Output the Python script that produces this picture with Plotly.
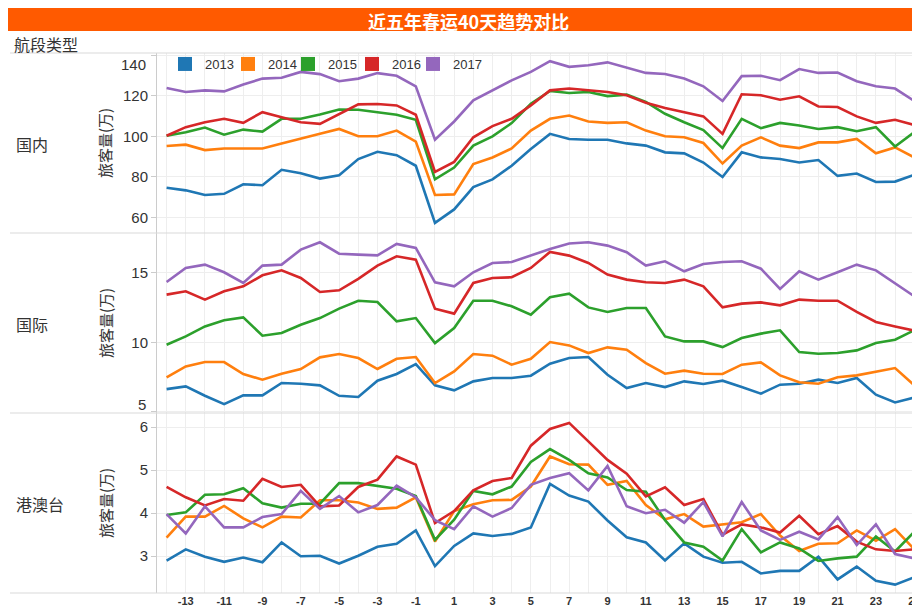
import plotly.graph_objects as go

days = list(range(-14, 26))
years = ['2013', '2014', '2015', '2016', '2017']
colors = ['#1f77b4', '#ff7f0e', '#2ca02c', '#d62728', '#9467bd']
row_labels = ['国内', '国际', '港澳台']
title_text = '近五年春运40天趋势对比'
header_text = '航段类型'
y_title = '旅客量(万)'

# 国内
dom_2013 = [74.7, 73.4, 71.1, 71.7, 76.4, 75.9, 83.5, 81.8, 79.2, 80.8, 88.8, 92.4, 90.7, 85.5, 57.4, 64.0, 75.0, 78.8, 85.5,
            93.7, 101.2, 98.7, 98.3, 98.3, 96.5, 95.4, 92.1, 91.6, 87.1, 80.0, 92.1, 89.6, 88.8, 87.1, 88.3, 80.5, 81.7, 77.5, 77.7, 81.0]
dom_2014 = [95.2, 95.9, 93.2, 94.0, 94.0, 94.0, 96.5, 98.7, 101.2, 103.6, 100.0, 100.0, 102.8, 97.4, 71.1, 71.4, 86.3, 89.6, 94.0,
            102.8, 108.6, 110.2, 107.3, 106.6, 106.9, 102.8, 100.0, 99.5, 96.7, 86.6, 95.4, 99.5, 95.4, 94.2, 97.0, 97.0, 98.7, 91.6, 94.5, 89.6]
dom_2015 = [100.3, 102.0, 104.3, 100.8, 103.3, 102.3, 108.6, 108.6, 110.7, 113.2, 113.1, 111.9, 110.6, 108.1, 78.8, 84.6, 95.4, 100.0, 106.5,
            116.0, 122.3, 121.3, 121.8, 119.8, 120.5, 116.9, 111.1, 106.9, 103.1, 94.2, 108.6, 104.0, 106.6, 105.3, 103.6, 104.5, 102.5, 104.5, 95.0, 102.0]
dom_2016 = [100.3, 104.5, 106.9, 108.6, 106.6, 111.9, 109.4, 106.9, 106.1, 111.1, 115.7, 115.9, 115.2, 110.6, 82.5, 87.4, 99.5, 105.0, 108.6,
            115.2, 122.6, 123.5, 122.6, 121.8, 120.2, 116.5, 113.9, 111.9, 109.8, 101.2, 120.7, 120.2, 118.0, 119.7, 114.7, 114.4, 109.8, 106.6, 108.1, 105.6]
dom_2017 = [123.8, 121.8, 122.6, 122.1, 125.5, 128.4, 128.8, 131.7, 130.6, 127.1, 128.4, 131.1, 129.8, 124.6, 98.3, 107.3, 117.7, 122.6, 127.5,
            131.7, 137.0, 134.2, 135.0, 136.4, 133.7, 131.2, 130.7, 128.4, 124.6, 117.4, 129.6, 129.8, 127.6, 133.1, 131.2, 131.4, 127.1, 124.6, 123.5, 117.4]

# 国际
intl_2013 = [6.63, 6.83, 6.15, 5.55, 6.18, 6.18, 7.07, 7.02, 6.90, 6.15, 6.06, 7.24, 7.72, 8.44, 6.90, 6.54, 7.19, 7.43, 7.43,
             7.60, 8.46, 8.87, 8.94, 7.67, 6.71, 7.07, 6.78, 7.19, 7.00, 7.24, 6.78, 6.30, 6.95, 7.02, 7.31, 7.07, 7.43, 6.23, 5.67, 6.03]
intl_2014 = [7.48, 8.27, 8.58, 8.58, 7.72, 7.31, 7.74, 8.08, 8.92, 9.16, 8.87, 8.08, 8.82, 8.94, 7.07, 7.91, 9.16, 9.04, 8.39,
             8.82, 10.02, 9.78, 9.23, 9.64, 9.47, 8.51, 7.74, 7.96, 7.74, 7.72, 8.39, 8.56, 7.62, 7.12, 7.02, 7.48, 7.62, 7.86, 8.15, 6.90]
intl_2015 = [9.83, 10.43, 11.15, 11.59, 11.80, 10.48, 10.67, 11.27, 11.75, 12.43, 13.00, 12.91, 11.51, 11.75, 9.95, 11.03, 13.00, 13.00, 12.60,
             12.00, 13.25, 13.51, 12.52, 12.19, 12.48, 12.48, 10.43, 10.07, 10.07, 9.66, 10.31, 10.63, 10.87, 9.30, 9.18, 9.23, 9.42, 9.95, 10.19, 10.87]
intl_2016 = [13.44, 13.68, 13.08, 13.68, 14.04, 14.83, 15.19, 14.64, 13.63, 13.75, 14.57, 15.53, 16.20, 15.96, 12.43, 12.07, 14.28, 14.64, 14.69,
             15.36, 16.51, 16.25, 15.72, 14.88, 14.52, 14.33, 14.28, 14.52, 14.04, 12.52, 12.79, 12.88, 12.67, 13.08, 13.00, 13.00, 12.19, 11.47, 11.15, 10.84]
intl_2017 = [14.35, 15.36, 15.60, 15.05, 14.28, 15.53, 15.60, 16.68, 17.21, 16.39, 16.32, 16.27, 17.09, 16.80, 14.33, 14.04, 15.05, 15.72, 15.79,
             16.25, 16.73, 17.12, 17.21, 16.97, 16.49, 15.53, 15.84, 15.12, 15.65, 15.79, 15.84, 15.31, 13.85, 15.12, 14.52, 15.05, 15.60, 15.19, 14.28, 13.32]

# 港澳台
hmt_2013 = [2.90, 3.16, 2.99, 2.87, 2.97, 2.86, 3.32, 3.00, 3.01, 2.83, 3.01, 3.22, 3.29, 3.60, 2.77, 3.24, 3.53, 3.47, 3.52,
            3.67, 4.68, 4.41, 4.27, 3.83, 3.44, 3.32, 2.90, 3.30, 2.99, 2.85, 2.87, 2.60, 2.66, 2.66, 2.99, 2.46, 2.76, 2.43, 2.34, 2.51]
hmt_2014 = [3.43, 3.92, 3.92, 4.17, 3.88, 3.67, 3.92, 3.90, 4.30, 4.30, 4.25, 4.10, 4.13, 4.37, 3.34, 4.05, 4.21, 4.30, 4.31,
            4.62, 5.32, 5.14, 5.13, 4.66, 4.75, 4.19, 3.86, 3.98, 3.69, 3.74, 3.79, 3.98, 3.48, 3.12, 3.29, 3.30, 3.60, 3.36, 3.63, 3.16]
hmt_2015 = [3.96, 4.02, 4.43, 4.44, 4.58, 4.23, 4.13, 4.22, 4.22, 4.70, 4.70, 4.64, 4.57, 4.40, 3.38, 3.85, 4.52, 4.44, 4.62,
            5.19, 5.49, 5.24, 4.93, 4.83, 4.54, 4.50, 3.84, 3.32, 3.22, 2.90, 3.63, 3.09, 3.32, 3.18, 2.89, 2.95, 2.99, 3.46, 3.11, 3.57]
hmt_2016 = [4.61, 4.37, 4.18, 4.33, 4.29, 4.80, 4.61, 4.66, 4.16, 4.18, 4.61, 4.78, 5.32, 5.13, 3.77, 4.05, 4.53, 4.75, 4.82,
            5.57, 5.96, 6.10, 5.67, 5.24, 4.92, 4.39, 4.60, 4.19, 4.33, 3.50, 3.74, 3.67, 3.55, 3.94, 3.51, 3.70, 3.34, 3.16, 3.12, 3.16]
hmt_2017 = [3.98, 3.53, 4.16, 3.67, 3.67, 3.91, 3.98, 4.52, 4.10, 4.40, 4.02, 4.19, 4.64, 4.37, 3.84, 3.63, 4.16, 3.92, 4.12,
            4.66, 4.82, 4.93, 4.53, 5.10, 4.16, 4.00, 4.08, 3.78, 4.26, 3.46, 4.26, 3.60, 3.38, 3.57, 3.39, 3.91, 3.26, 3.74, 3.05, 2.95]

dom = [dom_2013, dom_2014, dom_2015, dom_2016, dom_2017]
intl = [intl_2013, intl_2014, intl_2015, intl_2016, intl_2017]
hmt = [hmt_2013, hmt_2014, hmt_2015, hmt_2016, hmt_2017]

y_ticks = [[60, 80, 100, 120, 140], [5, 10, 15], [3, 4, 5, 6]]
y_ranges = [[52.4, 141], [4.91, 17.88], [2.145, 6.33]]

# the page body adds an 8px margin, so the figure is a little smaller than the window
W, H = 912, 604
def py(px):
    return 1 - px / H
def pxx(px):
    return px / W

panel_px = [(45, 225), (225, 405), (405, 585)]
legend_px = [157, 220, 280, 344, 405]   # left edge of each legend entry

fig = go.Figure()
for p, data in enumerate([dom, intl, hmt]):
    xa = 'x' if p == 0 else 'x%d' % (p + 1)
    ya = 'y' if p == 0 else 'y%d' % (p + 1)
    for i, yr in enumerate(years):
        fig.add_trace(go.Scatter(x=days, y=data[i], mode='lines', name=yr,
                                 line=dict(color=colors[i], width=2.6),
                                 xaxis=xa, yaxis=ya, showlegend=False))

FONT = 'Liberation Sans, Arial, sans-serif'
CJK = 'Noto Sans CJK SC, sans-serif'

legends = {}
for i, yr in enumerate(years):
    lname = 'legend' if i == 0 else 'legend%d' % (i + 1)
    fig.add_trace(go.Scatter(x=[None], y=[None], mode='markers', name=yr,
                             marker=dict(symbol='square', size=14, color=colors[i]),
                             xaxis='x', yaxis='y', showlegend=True, legend=lname))
    legends[lname] = dict(orientation='h', x=pxx(legend_px[i]), y=py(56), xanchor='left', yanchor='middle',
                          font=dict(size=13, color='#333333', family=FONT),
                          bgcolor='rgba(0,0,0,0)', itemclick=False, itemdoubleclick=False)

grid = '#eeeeee'
xdom = [pxx(149), 1.0]
xr = [-14.5, 25.3]
tickvals = days
ticktext = [str(d) if d % 2 else '' for d in days]

layout = dict(
    width=W, height=H,
    margin=dict(l=0, r=0, t=0, b=0, autoexpand=False),
    paper_bgcolor='white', plot_bgcolor='white',
    font=dict(family=FONT, color='#333333'),
    **legends
)

for p in range(3):
    xkey = 'xaxis' if p == 0 else 'xaxis%d' % (p + 1)
    ykey = 'yaxis' if p == 0 else 'yaxis%d' % (p + 1)
    ya = 'y' if p == 0 else 'y%d' % (p + 1)
    top, bot = panel_px[p]
    layout[xkey] = dict(domain=xdom, range=xr, anchor=ya, automargin=False,
                        tickmode='array', tickvals=tickvals, ticktext=ticktext,
                        showticklabels=(p == 2), showgrid=True, gridcolor=grid, gridwidth=1,
                        zeroline=False, showline=False, ticks='', ticklabeloverflow='allow',
                        tickfont=dict(size=11, color='#333333', family=FONT, weight='bold'))
    if p != 0:
        layout[xkey]['matches'] = 'x'
    yt = y_ticks[p]
    # edge labels are drawn as annotations nudged inside the panel
    ytext = [str(v) for v in yt]
    if p == 0:
        ytext[-1] = ''
    if p == 1:
        ytext[0] = ''
    layout[ykey] = dict(domain=[py(bot), py(top)], range=y_ranges[p], automargin=False,
                        anchor='x' if p == 0 else 'x%d' % (p + 1),
                        tickmode='array', tickvals=yt, ticktext=ytext,
                        showgrid=True, gridcolor=grid, zeroline=False,
                        showline=True, linecolor='#cccccc', linewidth=1,
                        ticks='outside', ticklen=5, tickcolor='#cccccc',
                        tickfont=dict(size=15, color='#333333', family=FONT))

fig.update_layout(**layout)

shapes = [dict(type='rect', xref='paper', yref='paper', x0=0, x1=1, y0=py(23), y1=1,
               fillcolor='#ff5a00', line=dict(width=0), layer='below')]
for ypx in [45, 225, 405, 585]:
    shapes.append(dict(type='line', xref='paper', yref='paper', x0=pxx(2), x1=1, y0=py(ypx), y1=py(ypx),
                       line=dict(color='#d9d9d9', width=1)))
fig.update_layout(shapes=shapes)

ann = [dict(text='<b>' + title_text + '</b>', x=pxx(460), y=py(13), xref='paper', yref='paper',
            showarrow=False, xanchor='center', yanchor='middle',
            font=dict(size=18, color='white', family=CJK)),
       dict(text=header_text, x=pxx(4), y=py(36), xref='paper', yref='paper', showarrow=False,
            xanchor='left', yanchor='middle', font=dict(size=16, color='#333333', family=CJK)),
       dict(text=str(y_ticks[0][-1]), x=pxx(140), y=py(56), xref='paper', yref='paper', showarrow=False,
            xanchor='right', yanchor='middle', font=dict(size=15, color='#333333', family=FONT)),
       dict(text=str(y_ticks[1][0]), x=pxx(140), y=py(396), xref='paper', yref='paper', showarrow=False,
            xanchor='right', yanchor='middle', font=dict(size=15, color='#333333', family=FONT))]
for p in range(3):
    top, bot = panel_px[p]
    mid = (top + bot) / 2
    ann.append(dict(text=row_labels[p], x=pxx(6), y=py(mid + 1), xref='paper', yref='paper', showarrow=False,
                    xanchor='left', yanchor='middle', font=dict(size=16, color='#333333', family=CJK)))
    ann.append(dict(text=y_title, x=pxx(97), y=py(mid), xref='paper', yref='paper', showarrow=False,
                    xanchor='center', yanchor='middle', textangle=-90,
                    font=dict(size=15, color='#333333', family=CJK)))
fig.update_layout(annotations=ann)

fig.write_html('out.html')
